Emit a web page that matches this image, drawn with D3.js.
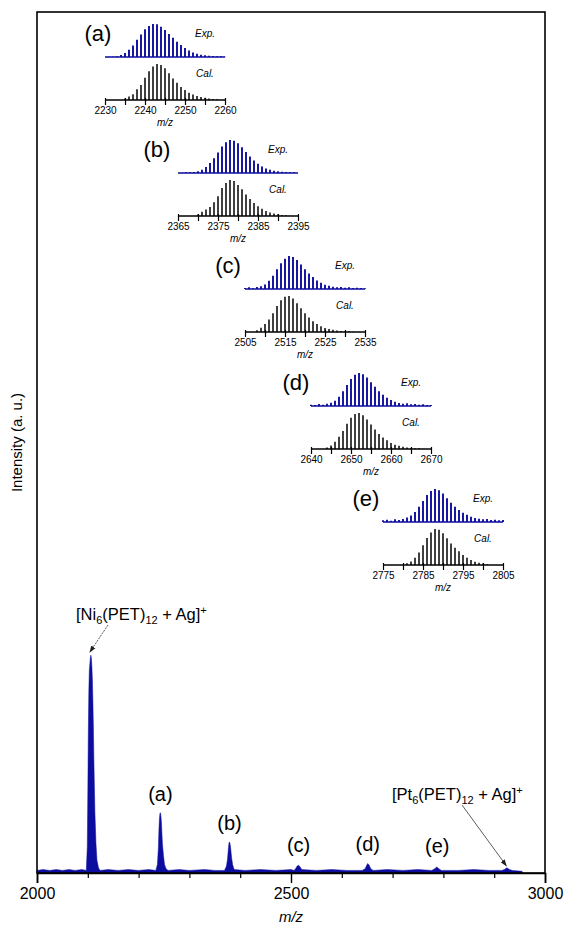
<!DOCTYPE html>
<html>
<head>
<meta charset="utf-8">
<script src="https://d3js.org/d3.v7.min.js"></script>
<style>
  body { margin: 0; background: #fff; }
  text { font-family: "Liberation Sans", Arial, sans-serif; fill: #000; }
</style>
</head>
<body>
<div id="chart"></div>
<script>
// ---- main spectrum (m/z, relative intensity) ----
var mainMz  = [2000, 2012, 2025, 2038, 2050, 2063, 2075, 2088, 2097,
               2099, 2100, 2101, 2102, 2103, 2105, 2106, 2107, 2108, 2109, 2110, 2111, 2112, 2113, 2114, 2116, 2118, 2121, 2124,
               2140, 2160, 2180, 2200, 2220, 2234,
               2237, 2239, 2240, 2241, 2242, 2243, 2244, 2245, 2246, 2247, 2249, 2251, 2254, 2258,
               2280, 2300, 2330, 2350, 2369,
               2373, 2375, 2377, 2378, 2379, 2380, 2381, 2383, 2385, 2388,
               2410, 2440, 2470, 2500, 2506,
               2509, 2512, 2515, 2518, 2521,
               2550, 2580, 2610, 2640,
               2646, 2649, 2651, 2654, 2657, 2662,
               2690, 2720, 2750, 2777,
               2783, 2787, 2791, 2796,
               2830, 2860, 2890, 2915,
               2920, 2925, 2930, 2936, 2955];
var mainInt = [0.003, 0.004, 0.003, 0.004, 0.003, 0.004, 0.003, 0.004, 0.003,
               0.03, 0.09, 0.16, 0.21, 0.235, 0.25, 0.253, 0.25, 0.24, 0.225, 0.20, 0.17, 0.13, 0.10, 0.07, 0.035, 0.015, 0.006, 0.003,
               0.004, 0.003, 0.004, 0.003, 0.004, 0.003,
               0.01, 0.03, 0.05, 0.063, 0.069, 0.070, 0.066, 0.058, 0.045, 0.033, 0.02, 0.01, 0.005, 0.003,
               0.004, 0.003, 0.004, 0.003, 0.003,
               0.008, 0.016, 0.03, 0.035, 0.036, 0.034, 0.03, 0.018, 0.01, 0.004,
               0.003, 0.004, 0.003, 0.004, 0.003,
               0.005, 0.008, 0.009, 0.007, 0.004,
               0.003, 0.004, 0.003, 0.003,
               0.005, 0.009, 0.011, 0.009, 0.005, 0.003,
               0.004, 0.003, 0.004, 0.003,
               0.005, 0.007, 0.005, 0.003,
               0.003, 0.004, 0.003, 0.003,
               0.004, 0.006, 0.004, 0.003, 0.002];

var mainTicks = [2000, 2500, 3000];
var mainMinor = [2100, 2200, 2300, 2400, 2600, 2700, 2800, 2900];
var peakLabels = ["(a)", "(b)", "(c)", "(d)", "(e)"];
var peakMz     = [2243, 2379, 2515, 2651, 2788];
var peakTop    = [0.070, 0.036, 0.011, 0.012, 0.009];

// ---- insets ----
var insetDomains = [[2230, 2260], [2365, 2395], [2505, 2535], [2640, 2670], [2775, 2805]];
var insetTicks = [[2230, 2240, 2250, 2260], [2365, 2375, 2385, 2395], [2505, 2515, 2525, 2535],
                  [2640, 2650, 2660, 2670], [2775, 2785, 2795, 2805]];
var expStart = [2231, 2366, 2505, 2640, 2775];
var expInt = [
  [0.01, 0.01, 0.02, 0.06, 0.12, 0.22, 0.35, 0.52, 0.68, 0.84, 0.94, 1.0, 0.99, 0.92, 0.82, 0.70, 0.58, 0.46, 0.36, 0.27, 0.20, 0.14, 0.10, 0.07, 0.05, 0.04, 0.03, 0.02, 0.02, 0.01],
  [0.01, 0.02, 0.02, 0.03, 0.05, 0.10, 0.18, 0.30, 0.45, 0.62, 0.80, 0.93, 1.0, 0.98, 0.90, 0.78, 0.64, 0.50, 0.38, 0.28, 0.20, 0.14, 0.10, 0.07, 0.05, 0.04, 0.03, 0.02, 0.02],
  [0.03, 0.05, 0.02, 0.06, 0.08, 0.14, 0.25, 0.40, 0.60, 0.78, 0.92, 1.0, 0.97, 0.88, 0.74, 0.60, 0.47, 0.36, 0.26, 0.19, 0.13, 0.10, 0.07, 0.05, 0.06, 0.04, 0.05, 0.03, 0.04, 0.03, 0.02],
  [0.04, 0.03, 0.06, 0.04, 0.07, 0.10, 0.16, 0.28, 0.45, 0.64, 0.82, 0.95, 1.0, 0.96, 0.86, 0.72, 0.58, 0.45, 0.34, 0.25, 0.18, 0.13, 0.09, 0.07, 0.08, 0.05, 0.06, 0.04, 0.05, 0.03, 0.03],
  [0.05, 0.07, 0.04, 0.08, 0.06, 0.09, 0.14, 0.20, 0.30, 0.46, 0.64, 0.82, 0.94, 1.0, 0.96, 0.86, 0.72, 0.58, 0.46, 0.36, 0.28, 0.22, 0.16, 0.12, 0.10, 0.08, 0.09, 0.06, 0.07, 0.05, 0.06]
];
var calStart = [2235, 2370, 2508, 2644, 2781];
var calInt = [
  [0.04, 0.10, 0.16, 0.30, 0.42, 0.62, 0.80, 0.93, 1.0, 0.97, 0.88, 0.74, 0.60, 0.48, 0.36, 0.28, 0.20, 0.15, 0.11, 0.08, 0.06, 0.04, 0.03, 0.02],
  [0.04, 0.12, 0.18, 0.25, 0.38, 0.55, 0.78, 0.92, 1.0, 0.97, 0.86, 0.74, 0.60, 0.47, 0.36, 0.27, 0.20, 0.14, 0.10, 0.07, 0.05, 0.03, 0.02, 0.01],
  [0.05, 0.12, 0.22, 0.35, 0.52, 0.72, 0.88, 0.98, 1.0, 0.93, 0.80, 0.66, 0.52, 0.40, 0.30, 0.22, 0.16, 0.11, 0.08, 0.06, 0.04, 0.03, 0.02, 0.02, 0.01],
  [0.04, 0.10, 0.20, 0.34, 0.50, 0.70, 0.87, 0.97, 1.0, 0.94, 0.82, 0.68, 0.54, 0.42, 0.32, 0.24, 0.17, 0.12, 0.09, 0.06, 0.04, 0.03, 0.02, 0.02, 0.01],
  [0.05, 0.10, 0.20, 0.35, 0.55, 0.75, 0.90, 1.0, 0.98, 0.88, 0.74, 0.60, 0.48, 0.38, 0.28, 0.20, 0.14, 0.09, 0.06, 0.04, 0.02]
];

// layout
var W = 566, H = 927;
var mLeft = 37, mRight = 545, mTop = 12, mBottom = 873;
var blue = "#0c0c9e";
var insetX0 = [105, 178, 245, 311, 383];
var insetY  = [100, 216, 332, 449, 565];
var insetLabX = [98, 157, 228, 296, 366];

var svg = d3.select("#chart").append("svg")
    .attr("width", W).attr("height", H);

var defs = svg.append("defs");
defs.append("marker").attr("id", "arr")
    .attr("viewBox", "0 0 10 10").attr("refX", 9).attr("refY", 5)
    .attr("markerWidth", 7).attr("markerHeight", 7).attr("markerUnits", "userSpaceOnUse").attr("orient", "auto")
  .append("path").attr("d", "M0,1.5 L10,5 L0,8.5 z").attr("fill", "#222");

var x = d3.scaleLinear().domain([2000, 3000]).range([mLeft, mRight]);
var y = d3.scaleLinear().domain([0, 1]).range([mBottom, mTop]);

// spectrum area
var pts = mainMz.map(function(m, i) { return [m, mainInt[i]]; });
svg.append("path")
    .datum(pts)
    .attr("d", d3.area().x(function(d) { return x(d[0]); }).y0(y(0)).y1(function(d) { return y(d[1]); }))
    .attr("fill", blue).attr("stroke", blue).attr("stroke-width", 0.5);

// frame
svg.append("rect").attr("x", mLeft).attr("y", mTop)
    .attr("width", mRight - mLeft).attr("height", mBottom - mTop)
    .attr("fill", "none").attr("stroke", "#000").attr("stroke-width", 1.6);

// x axis
var xAxis = d3.axisBottom(x).tickValues(mainTicks).tickSize(10).tickPadding(5).tickFormat(d3.format("d"));
var gx = svg.append("g").attr("transform", "translate(0," + mBottom + ")").call(xAxis);
gx.select(".domain").attr("stroke-width", 1.6);
gx.selectAll(".tick line").attr("stroke-width", 1.4);
gx.selectAll(".tick text").style("font-size", "16px").style("font-family", "Liberation Sans, Arial, sans-serif");
var gm = svg.append("g").attr("transform", "translate(0," + mBottom + ")")
    .call(d3.axisBottom(x).tickValues(mainMinor).tickSize(5).tickFormat(""));
gm.select(".domain").remove();
gm.selectAll(".tick line").attr("stroke-width", 1.2);

svg.append("text").attr("x", x(2500)).attr("y", 922).attr("text-anchor", "middle")
    .style("font-size", "15px").style("font-style", "italic").text("m/z");

svg.append("text").attr("transform", "translate(22," + ((mTop + mBottom) / 2) + ") rotate(-90)")
    .attr("text-anchor", "middle").style("font-size", "15px").text("Intensity (a. u.)");

// peak labels
svg.selectAll(".plab").data(peakLabels).enter().append("text")
    .attr("class", "plab")
    .attr("x", function(d, i) { return x(peakMz[i]); })
    .attr("y", function(d, i) { return Math.min(y(peakTop[i]) - 12, 855); })
    .attr("text-anchor", "middle").style("font-size", "20px").text(function(d) { return d; });

// formula labels
function formula(g, metal) {
  var t = g.append("text").style("font-size", "16.5px");
  t.append("tspan").text("[" + metal);
  t.append("tspan").attr("dy", 4).style("font-size", "11px").text("6");
  t.append("tspan").attr("dy", -4).text("(PET)");
  t.append("tspan").attr("dy", 4).style("font-size", "11px").text("12");
  t.append("tspan").attr("dy", -4).text(" + Ag]");
  t.append("tspan").attr("dy", -6).style("font-size", "11px").text("+");
  return t;
}
formula(svg.append("g").attr("transform", "translate(76,620)"), "Ni");
formula(svg.append("g").attr("transform", "translate(392,800)"), "Pt");

svg.append("line").attr("x1", 108).attr("y1", 625).attr("x2", x(2104)).attr("y2", y(0.253) - 3)
    .attr("stroke", "#333").attr("stroke-width", 0.8).attr("stroke-dasharray", "2,1").attr("marker-end", "url(#arr)");
svg.append("line").attr("x1", 462).attr("y1", 805).attr("x2", x(2924)).attr("y2", y(0.006) - 2)
    .attr("stroke", "#333").attr("stroke-width", 0.8).attr("marker-end", "url(#arr)");

// insets
insetDomains.forEach(function(dom, k) {
  var x0 = insetX0[k], ay = insetY[k];
  var sx = d3.scaleLinear().domain(dom).range([x0, x0 + 120]);
  var ye = d3.scaleLinear().domain([0, 1]).range([ay - 43, ay - 76]);
  var yc = d3.scaleLinear().domain([0, 1]).range([ay, ay - 36]);
  var g = svg.append("g");

  g.append("text").attr("x", insetLabX[k]).attr("y", ay - 59).attr("text-anchor", "middle")
      .style("font-size", "22px").text(peakLabels[k]);

  // exp baseline and sticks
  g.append("line").attr("x1", sx(dom[0])).attr("x2", sx(dom[1]))
      .attr("y1", ye(0)).attr("y2", ye(0)).attr("stroke", blue).attr("stroke-width", 1.6);
  g.selectAll(".exp").data(expInt[k]).enter().append("line")
      .attr("x1", function(d, i) { return sx(expStart[k] + i); })
      .attr("x2", function(d, i) { return sx(expStart[k] + i); })
      .attr("y1", ye(0)).attr("y2", function(d) { return ye(d); })
      .attr("stroke", blue).attr("stroke-width", 1.9);

  // cal sticks
  g.selectAll(".cal").data(calInt[k]).enter().append("line")
      .attr("x1", function(d, i) { return sx(calStart[k] + i); })
      .attr("x2", function(d, i) { return sx(calStart[k] + i); })
      .attr("y1", yc(0)).attr("y2", function(d) { return yc(d); })
      .attr("stroke", "#000").attr("stroke-width", 1.5);

  g.append("text").attr("x", x0 + 100).attr("y", ay - 63).attr("text-anchor", "middle")
      .style("font-size", "10px").style("font-style", "italic").text("Exp.");
  g.append("text").attr("x", x0 + 100).attr("y", ay - 23).attr("text-anchor", "middle")
      .style("font-size", "10px").style("font-style", "italic").text("Cal.");

  var minor = d3.range(dom[0] + 5, dom[1], 10);
  var ax = g.append("g").attr("transform", "translate(0," + ay + ")")
      .call(d3.axisBottom(sx).tickValues(insetTicks[k]).tickSize(5).tickPadding(2).tickFormat(d3.format("d")));
  ax.select(".domain").attr("d", "M" + x0 + ",0H" + (x0 + 120)).attr("stroke-width", 1.4);
  ax.selectAll(".tick line").attr("y1", -2).attr("stroke-width", 1.2);
  ax.selectAll(".tick text").style("font-size", "10px").style("font-family", "Liberation Sans, Arial, sans-serif");
  var am = g.append("g").attr("transform", "translate(0," + ay + ")")
      .call(d3.axisBottom(sx).tickValues(minor).tickSize(5).tickFormat(""));
  am.select(".domain").remove();
  am.selectAll(".tick line").attr("y1", -2).attr("stroke-width", 1.2);

  g.append("text").attr("x", x0 + 60).attr("y", ay + 26).attr("text-anchor", "middle")
      .style("font-size", "10px").style("font-style", "italic").text("m/z");
});
</script>
</body>
</html>
